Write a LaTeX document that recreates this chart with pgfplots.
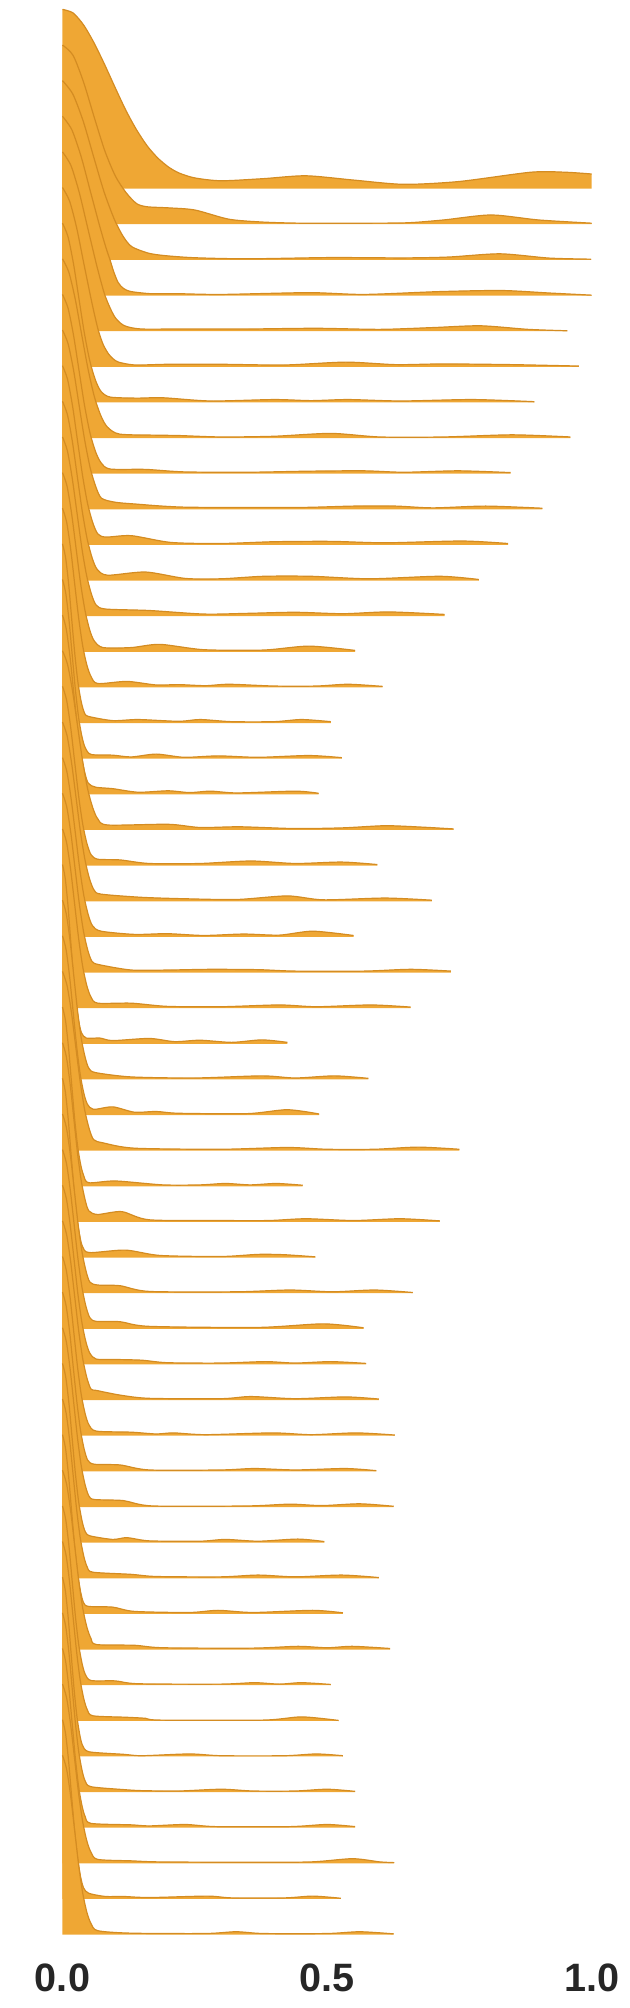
\documentclass[border=0pt]{standalone}
\usepackage{pgfplots}
\pgfplotsset{compat=1.18}
\usepackage{fontspec}
\setmainfont{Liberation Sans}
\definecolor{rfill}{RGB}{239,167,52}
\definecolor{rline}{RGB}{212,140,34}
\definecolor{tickc}{RGB}{38,38,38}
\newcommand\ridge[3]{%
  \addplot[draw=none, fill=rfill, smooth, tension=0.45] table[row sep=\\, x=x, y expr=\thisrow{h}+#1] {#3} -- (axis cs:#2,#1) -- (axis cs:0,#1) -- cycle;
  \addplot[draw=rline, line width=0.6pt, smooth, tension=0.45] table[row sep=\\, x=x, y expr=\thisrow{h}+#1] {#3};
}
\begin{document}
\begin{tikzpicture}
\begin{axis}[
  scale only axis,
  width=264.55pt, height=962.6pt,
  xmin=0, xmax=1, ymin=0, ymax=54.03,
  clip=false,
  axis line style={draw=none},
  tick style={draw=none},
  major tick length=0pt,
  ytick=\empty,
  xtick={0,0.5,1},
  xticklabels={0.0,0.5,1.0},
  xticklabel style={font=\fontsize{19.8}{22}\selectfont\bfseries, text=tickc, anchor=center, yshift=-21.45pt},
]
\coordinate (O) at (axis cs:0,0);
\ridge{49}{1.0}{x h\\0 5.03\\0.02 4.93\\0.04 4.59\\0.06 4.08\\0.08 3.47\\0.10 2.82\\0.12 2.19\\0.14 1.65\\0.16 1.20\\0.18 0.86\\0.20 0.61\\0.22 0.44\\0.25 0.30\\0.30 0.22\\0.38 0.28\\0.46 0.36\\0.55 0.24\\0.645 0.12\\0.75 0.20\\0.885 0.46\\0.95 0.46\\1.0 0.41\\}
\ridge{48}{1.0}{x h\\0 5.03\\0.02 4.74\\0.04 3.98\\0.06 3.00\\0.08 2.06\\0.10 1.35\\0.12 0.89\\0.14 0.58\\0.16 0.49\\0.20 0.46\\0.25 0.40\\0.315 0.14\\0.38 0.06\\0.45 0.03\\0.55 0.03\\0.65 0.04\\0.72 0.12\\0.81 0.26\\0.90 0.12\\1.0 0.03\\}
\ridge{47}{0.999}{x h\\0 5.03\\0.0196 4.65\\0.0392 3.89\\0.0587 2.90\\0.0783 1.92\\0.0979 1.14\\0.115 0.65\\0.131 0.37\\0.162 0.19\\0.193 0.12\\0.25 0.06\\0.35 0.03\\0.507 0.065\\0.645 0.055\\0.73 0.08\\0.827 0.17\\0.92 0.05\\0.999 0.02\\}
\ridge{46}{1.0}{x h\\0 5.03\\0.0177 4.65\\0.0354 3.89\\0.0531 2.90\\0.0708 1.92\\0.082 1.35\\0.0898 1.0\\0.097 0.66\\0.105 0.37\\0.115 0.20\\0.13 0.11\\0.168 0.05\\0.22 0.05\\0.30 0.03\\0.466 0.08\\0.57 0.03\\0.713 0.11\\0.83 0.14\\0.92 0.07\\1.0 0.01\\}
\ridge{45}{0.954}{x h\\0 5.03\\0.0159 4.65\\0.0317 3.89\\0.0476 2.90\\0.0634 1.92\\0.0725 1.40\\0.0803 1.0\\0.09 0.65\\0.0992 0.39\\0.11 0.22\\0.121 0.13\\0.149 0.06\\0.22 0.06\\0.35 0.06\\0.48 0.08\\0.60 0.05\\0.70 0.10\\0.79 0.15\\0.88 0.05\\0.954 0.01\\}
\ridge{44}{0.976}{x h\\0 5.03\\0.0134 4.65\\0.0269 3.89\\0.0403 2.90\\0.0538 1.92\\0.0615 1.40\\0.0681 1.0\\0.077 0.62\\0.087 0.36\\0.096 0.22\\0.106 0.13\\0.137 0.05\\0.20 0.07\\0.30 0.07\\0.42 0.05\\0.535 0.13\\0.63 0.06\\0.72 0.08\\0.85 0.06\\0.976 0.02\\}
\ridge{43}{0.892}{x h\\0 5.03\\0.0104 4.65\\0.0208 3.89\\0.0312 2.90\\0.0416 1.92\\0.052 1.14\\0.0624 0.62\\0.0728 0.31\\0.09 0.15\\0.14 0.12\\0.19 0.13\\0.28 0.04\\0.40 0.08\\0.47 0.05\\0.54 0.08\\0.64 0.04\\0.775 0.08\\0.892 0.02\\}
\ridge{42}{0.96}{x h\\0 5.03\\0.0121 4.65\\0.0242 3.89\\0.0363 2.90\\0.0485 1.92\\0.0606 1.14\\0.0727 0.62\\0.0848 0.31\\0.108 0.11\\0.18 0.08\\0.22 0.07\\0.30 0.03\\0.40 0.05\\0.507 0.13\\0.60 0.03\\0.72 0.03\\0.85 0.09\\0.96 0.03\\}
\ridge{41}{0.847}{x h\\0 5.03\\0.0104 4.65\\0.0208 3.89\\0.0312 2.90\\0.0416 1.92\\0.052 1.14\\0.0624 0.62\\0.0728 0.31\\0.09 0.13\\0.157 0.12\\0.23 0.05\\0.35 0.04\\0.466 0.07\\0.57 0.08\\0.645 0.04\\0.748 0.08\\0.847 0.03\\}
\ridge{40}{0.907}{x h\\0 5.03\\0.0105 4.65\\0.0211 3.89\\0.0316 2.90\\0.0422 1.92\\0.0527 1.14\\0.0633 0.62\\0.0738 0.31\\0.099 0.20\\0.136 0.15\\0.232 0.06\\0.44 0.05\\0.55 0.09\\0.63 0.09\\0.70 0.04\\0.80 0.09\\0.907 0.03\\}
\ridge{39}{0.842}{x h\\0 5.03\\0.0095 4.65\\0.0191 3.89\\0.0286 2.90\\0.0382 1.92\\0.0477 1.14\\0.0573 0.62\\0.0668 0.31\\0.082 0.22\\0.13 0.26\\0.205 0.07\\0.30 0.04\\0.40 0.09\\0.507 0.10\\0.61 0.06\\0.755 0.11\\0.842 0.04\\}
\ridge{38}{0.787}{x h\\0 5.03\\0.0094 4.65\\0.0188 3.89\\0.0282 2.90\\0.0376 1.92\\0.047 1.14\\0.0564 0.62\\0.0658 0.31\\0.0855 0.15\\0.157 0.24\\0.232 0.06\\0.30 0.05\\0.38 0.12\\0.47 0.12\\0.58 0.05\\0.713 0.12\\0.787 0.03\\}
\ridge{37}{0.722}{x h\\0 5.03\\0.0091 4.65\\0.0182 3.89\\0.0274 2.90\\0.0365 1.92\\0.0456 1.14\\0.0547 0.62\\0.0638 0.31\\0.082 0.20\\0.164 0.16\\0.267 0.06\\0.35 0.08\\0.44 0.11\\0.53 0.07\\0.617 0.12\\0.722 0.05\\}
\ridge{36}{0.553}{x h\\0 5.03\\0.0086 4.65\\0.0171 3.89\\0.0257 2.90\\0.0342 1.92\\0.0428 1.14\\0.0513 0.62\\0.0599 0.31\\0.0765 0.12\\0.13 0.12\\0.184 0.21\\0.267 0.06\\0.38 0.05\\0.466 0.16\\0.553 0.04\\}
\ridge{35}{0.605}{x h\\0 5.03\\0.0077 4.65\\0.0154 3.89\\0.0231 2.90\\0.0308 1.92\\0.0385 1.14\\0.0462 0.62\\0.0539 0.31\\0.0666 0.11\\0.122 0.17\\0.177 0.07\\0.22 0.08\\0.27 0.05\\0.315 0.09\\0.40 0.04\\0.48 0.04\\0.54 0.09\\0.605 0.03\\}
\ridge{34}{0.507}{x h\\0 5.03\\0.0058 4.65\\0.0117 3.89\\0.0175 2.90\\0.0234 1.92\\0.0292 1.14\\0.0351 0.62\\0.0409 0.31\\0.0486 0.19\\0.095 0.07\\0.143 0.10\\0.22 0.05\\0.26 0.10\\0.32 0.04\\0.40 0.04\\0.452 0.10\\0.507 0.04\\}
\ridge{33}{0.528}{x h\\0 5.03\\0.0061 4.65\\0.0123 3.89\\0.0184 2.90\\0.0245 1.92\\0.0306 1.14\\0.0368 0.62\\0.0429 0.31\\0.054 0.12\\0.095 0.10\\0.13 0.05\\0.177 0.13\\0.23 0.04\\0.294 0.08\\0.37 0.04\\0.466 0.09\\0.528 0.03\\}
\ridge{32}{0.484}{x h\\0 5.03\\0.007 4.65\\0.014 3.89\\0.0209 2.90\\0.0279 1.92\\0.0349 1.14\\0.0419 0.62\\0.0489 0.31\\0.063 0.20\\0.095 0.16\\0.143 0.06\\0.20 0.10\\0.24 0.05\\0.28 0.09\\0.33 0.04\\0.44 0.09\\0.484 0.03\\}
\ridge{31}{0.739}{x h\\0 5.03\\0.0095 4.65\\0.0191 3.89\\0.0286 2.90\\0.0382 1.92\\0.0477 1.14\\0.0573 0.62\\0.0668 0.31\\0.0855 0.14\\0.20 0.16\\0.26 0.07\\0.335 0.09\\0.44 0.04\\0.53 0.06\\0.61 0.12\\0.68 0.08\\0.739 0.03\\}
\ridge{30}{0.595}{x h\\0 5.03\\0.0077 4.65\\0.0154 3.89\\0.0231 2.90\\0.0308 1.92\\0.0385 1.14\\0.0462 0.62\\0.0539 0.31\\0.0666 0.18\\0.109 0.16\\0.164 0.06\\0.26 0.06\\0.356 0.13\\0.44 0.06\\0.528 0.10\\0.595 0.03\\}
\ridge{29}{0.698}{x h\\0 5.03\\0.0086 4.65\\0.0171 3.89\\0.0257 2.90\\0.0342 1.92\\0.0428 1.14\\0.0513 0.62\\0.0599 0.31\\0.0729 0.20\\0.15 0.11\\0.232 0.07\\0.33 0.05\\0.425 0.15\\0.493 0.04\\0.61 0.09\\0.698 0.03\\}
\ridge{28}{0.55}{x h\\0 5.03\\0.0081 4.65\\0.0162 3.89\\0.0244 2.90\\0.0325 1.92\\0.0406 1.14\\0.0487 0.62\\0.0569 0.31\\0.0729 0.16\\0.136 0.07\\0.198 0.09\\0.267 0.04\\0.342 0.08\\0.41 0.05\\0.473 0.16\\0.55 0.04\\}
\ridge{27}{0.734}{x h\\0 5.03\\0.008 4.65\\0.016 3.89\\0.0239 2.90\\0.0319 1.92\\0.0399 1.14\\0.0479 0.62\\0.0559 0.31\\0.0693 0.22\\0.13 0.07\\0.20 0.07\\0.28 0.09\\0.37 0.08\\0.44 0.04\\0.57 0.04\\0.658 0.09\\0.734 0.04\\}
\ridge{26}{0.658}{x h\\0 5.03\\0.0077 4.65\\0.0154 3.89\\0.0231 2.90\\0.0308 1.92\\0.0385 1.14\\0.0462 0.62\\0.0539 0.31\\0.0666 0.14\\0.13 0.14\\0.198 0.05\\0.30 0.04\\0.41 0.09\\0.48 0.04\\0.583 0.09\\0.658 0.03\\}
\ridge{25}{0.425}{x h\\0 5.03\\0.0051 4.65\\0.0103 3.89\\0.0154 2.90\\0.0205 1.92\\0.0257 1.14\\0.0308 0.62\\0.0359 0.31\\0.045 0.16\\0.071 0.16\\0.095 0.09\\0.164 0.15\\0.212 0.06\\0.26 0.10\\0.32 0.04\\0.377 0.11\\0.425 0.04\\}
\ridge{24}{0.578}{x h\\0 5.03\\0.0071 4.65\\0.0143 3.89\\0.0214 2.90\\0.0285 1.92\\0.0356 1.14\\0.0428 0.62\\0.0499 0.31\\0.063 0.19\\0.13 0.07\\0.25 0.04\\0.377 0.10\\0.44 0.04\\0.514 0.10\\0.578 0.03\\}
\ridge{23}{0.485}{x h\\0 5.03\\0.0067 4.65\\0.0134 3.89\\0.0201 2.90\\0.0268 1.92\\0.0335 1.14\\0.0402 0.62\\0.0469 0.31\\0.0585 0.16\\0.095 0.23\\0.136 0.08\\0.177 0.10\\0.22 0.05\\0.35 0.04\\0.425 0.15\\0.485 0.03\\}
\ridge{22}{0.75}{x h\\0 5.03\\0.0084 4.65\\0.0168 3.89\\0.0252 2.90\\0.0336 1.92\\0.042 1.14\\0.0504 0.62\\0.0589 0.31\\0.0765 0.22\\0.136 0.07\\0.30 0.04\\0.425 0.09\\0.50 0.04\\0.59 0.04\\0.672 0.10\\0.75 0.04\\}
\ridge{21}{0.454}{x h\\0 5.03\\0.0057 4.65\\0.0114 3.89\\0.0171 2.90\\0.0228 1.92\\0.0285 1.14\\0.0342 0.62\\0.0399 0.31\\0.0495 0.10\\0.10 0.15\\0.19 0.04\\0.26 0.04\\0.308 0.08\\0.355 0.04\\0.404 0.08\\0.454 0.03\\}
\ridge{20}{0.713}{x h\\0 5.03\\0.0071 4.65\\0.0143 3.89\\0.0214 2.90\\0.0285 1.92\\0.0356 1.14\\0.0428 0.62\\0.0499 0.31\\0.0666 0.21\\0.112 0.29\\0.164 0.06\\0.30 0.04\\0.39 0.04\\0.46 0.09\\0.55 0.04\\0.638 0.09\\0.713 0.03\\}
\ridge{19}{0.478}{x h\\0 5.03\\0.0054 4.65\\0.0108 3.89\\0.0162 2.90\\0.0217 1.92\\0.0271 1.14\\0.0325 0.62\\0.0379 0.31\\0.0504 0.14\\0.119 0.21\\0.184 0.06\\0.30 0.03\\0.37 0.09\\0.42 0.08\\0.478 0.02\\}
\ridge{18}{0.662}{x h\\0 5.03\\0.0074 4.65\\0.0148 3.89\\0.0222 2.90\\0.0296 1.92\\0.0371 1.14\\0.0445 0.62\\0.0519 0.31\\0.0666 0.23\\0.109 0.21\\0.164 0.05\\0.33 0.04\\0.43 0.09\\0.51 0.04\\0.59 0.09\\0.662 0.02\\}
\ridge{17}{0.569}{x h\\0 5.03\\0.0074 4.65\\0.0148 3.89\\0.0222 2.90\\0.0296 1.92\\0.0371 1.14\\0.0445 0.62\\0.0519 0.31\\0.0639 0.21\\0.109 0.20\\0.164 0.07\\0.37 0.04\\0.493 0.14\\0.569 0.03\\}
\ridge{16}{0.574}{x h\\0 5.03\\0.0074 4.65\\0.0148 3.89\\0.0222 2.90\\0.0296 1.92\\0.0371 1.14\\0.0445 0.62\\0.0519 0.31\\0.0639 0.15\\0.10 0.14\\0.15 0.12\\0.198 0.05\\0.30 0.04\\0.384 0.08\\0.44 0.04\\0.507 0.08\\0.574 0.03\\}
\ridge{15}{0.598}{x h\\0 5.03\\0.0077 4.65\\0.0154 3.89\\0.0231 2.90\\0.0308 1.92\\0.0385 1.14\\0.0462 0.62\\0.0539 0.31\\0.0648 0.27\\0.109 0.14\\0.164 0.05\\0.30 0.04\\0.356 0.10\\0.44 0.04\\0.535 0.09\\0.598 0.03\\}
\ridge{14}{0.628}{x h\\0 5.03\\0.0071 4.65\\0.0143 3.89\\0.0214 2.90\\0.0285 1.92\\0.0356 1.14\\0.0428 0.62\\0.0499 0.31\\0.0639 0.13\\0.13 0.10\\0.177 0.05\\0.21 0.08\\0.27 0.03\\0.397 0.08\\0.47 0.03\\0.555 0.08\\0.628 0.02\\}
\ridge{13}{0.593}{x h\\0 5.03\\0.0068 4.65\\0.0137 3.89\\0.0205 2.90\\0.0274 1.92\\0.0342 1.14\\0.041 0.62\\0.0479 0.31\\0.0603 0.20\\0.109 0.18\\0.164 0.04\\0.30 0.04\\0.363 0.08\\0.44 0.04\\0.535 0.08\\0.593 0.02\\}
\ridge{12}{0.626}{x h\\0 5.03\\0.0071 4.65\\0.0143 3.89\\0.0214 2.90\\0.0285 1.92\\0.0356 1.14\\0.0428 0.62\\0.0499 0.31\\0.0603 0.21\\0.115 0.18\\0.17 0.03\\0.35 0.03\\0.43 0.08\\0.49 0.04\\0.562 0.09\\0.626 0.02\\}
\ridge{11}{0.495}{x h\\0 5.03\\0.0061 4.65\\0.0123 3.89\\0.0184 2.90\\0.0245 1.92\\0.0306 1.14\\0.0368 0.62\\0.0429 0.31\\0.0522 0.19\\0.095 0.09\\0.122 0.14\\0.164 0.05\\0.26 0.04\\0.308 0.09\\0.37 0.04\\0.445 0.10\\0.495 0.03\\}
\ridge{10}{0.598}{x h\\0 5.03\\0.0067 4.65\\0.0134 3.89\\0.0201 2.90\\0.0268 1.92\\0.0335 1.14\\0.0402 0.62\\0.0469 0.31\\0.0576 0.17\\0.13 0.11\\0.177 0.05\\0.30 0.04\\0.37 0.09\\0.44 0.04\\0.528 0.09\\0.598 0.02\\}
\ridge{9}{0.53}{x h\\0 5.03\\0.0057 4.65\\0.0114 3.89\\0.0171 2.90\\0.0228 1.92\\0.0285 1.14\\0.0342 0.62\\0.0399 0.31\\0.0495 0.21\\0.095 0.19\\0.136 0.07\\0.24 0.04\\0.294 0.10\\0.36 0.04\\0.473 0.10\\0.53 0.03\\}
\ridge{8}{0.619}{x h\\0 5.03\\0.0077 4.65\\0.0154 3.89\\0.0231 2.90\\0.0308 1.92\\0.0385 1.14\\0.0462 0.62\\0.0539 0.31\\0.0639 0.14\\0.136 0.12\\0.19 0.05\\0.36 0.04\\0.445 0.09\\0.50 0.05\\0.548 0.09\\0.619 0.03\\}
\ridge{7}{0.507}{x h\\0 5.03\\0.0061 4.65\\0.0123 3.89\\0.0184 2.90\\0.0245 1.92\\0.0306 1.14\\0.0368 0.62\\0.0429 0.31\\0.054 0.13\\0.10 0.12\\0.143 0.04\\0.30 0.03\\0.363 0.07\\0.41 0.03\\0.452 0.07\\0.507 0.02\\}
\ridge{6}{0.522}{x h\\0 5.03\\0.0067 4.65\\0.0134 3.89\\0.0201 2.90\\0.0268 1.92\\0.0335 1.14\\0.0402 0.62\\0.0469 0.31\\0.0576 0.14\\0.12 0.10\\0.157 0.07\\0.184 0.02\\0.38 0.02\\0.452 0.11\\0.522 0.01\\}
\ridge{5}{0.53}{x h\\0 5.03\\0.0054 4.65\\0.0108 3.89\\0.0162 2.90\\0.0217 1.92\\0.0271 1.14\\0.0325 0.62\\0.0379 0.31\\0.0504 0.13\\0.115 0.06\\0.15 0.02\\0.24 0.07\\0.30 0.02\\0.42 0.02\\0.48 0.07\\0.53 0.02\\}
\ridge{4}{0.553}{x h\\0 5.03\\0.0061 4.65\\0.0123 3.89\\0.0184 2.90\\0.0245 1.92\\0.0306 1.14\\0.0368 0.62\\0.0429 0.31\\0.054 0.15\\0.115 0.07\\0.15 0.04\\0.22 0.03\\0.30 0.08\\0.36 0.03\\0.44 0.03\\0.50 0.08\\0.553 0.02\\}
\ridge{3}{0.553}{x h\\0 5.03\\0.0061 4.65\\0.0123 3.89\\0.0184 2.90\\0.0245 1.92\\0.0306 1.14\\0.0368 0.62\\0.0429 0.31\\0.054 0.12\\0.13 0.08\\0.164 0.05\\0.232 0.09\\0.29 0.03\\0.43 0.03\\0.50 0.09\\0.553 0.03\\}
\ridge{2}{0.627}{x h\\0 5.03\\0.0077 4.65\\0.0154 3.89\\0.0231 2.90\\0.0308 1.92\\0.0385 1.14\\0.0462 0.62\\0.0539 0.31\\0.0666 0.11\\0.13 0.07\\0.184 0.04\\0.35 0.03\\0.47 0.04\\0.548 0.13\\0.60 0.04\\0.627 0.02\\}
\ridge{1}{0.526}{x h\\0 5.03\\0.0057 4.65\\0.0114 3.89\\0.0171 2.90\\0.0228 1.92\\0.0285 1.14\\0.0342 0.62\\0.0399 0.31\\0.0495 0.16\\0.081 0.07\\0.115 0.07\\0.164 0.04\\0.274 0.08\\0.32 0.03\\0.42 0.03\\0.473 0.08\\0.526 0.02\\}
\ridge{0}{0.626}{x h\\0 5.03\\0.0077 4.65\\0.0154 3.89\\0.0231 2.90\\0.0308 1.92\\0.0385 1.14\\0.0462 0.62\\0.0539 0.31\\0.0666 0.11\\0.13 0.04\\0.27 0.03\\0.328 0.08\\0.38 0.03\\0.50 0.03\\0.562 0.08\\0.626 0.02\\}
\end{axis}
\pgfresetboundingbox
\path[use as bounding box] ([shift={(-31.25pt,-36.7pt)}]O) rectangle ++(315pt,1004pt);
\end{tikzpicture}
\end{document}
